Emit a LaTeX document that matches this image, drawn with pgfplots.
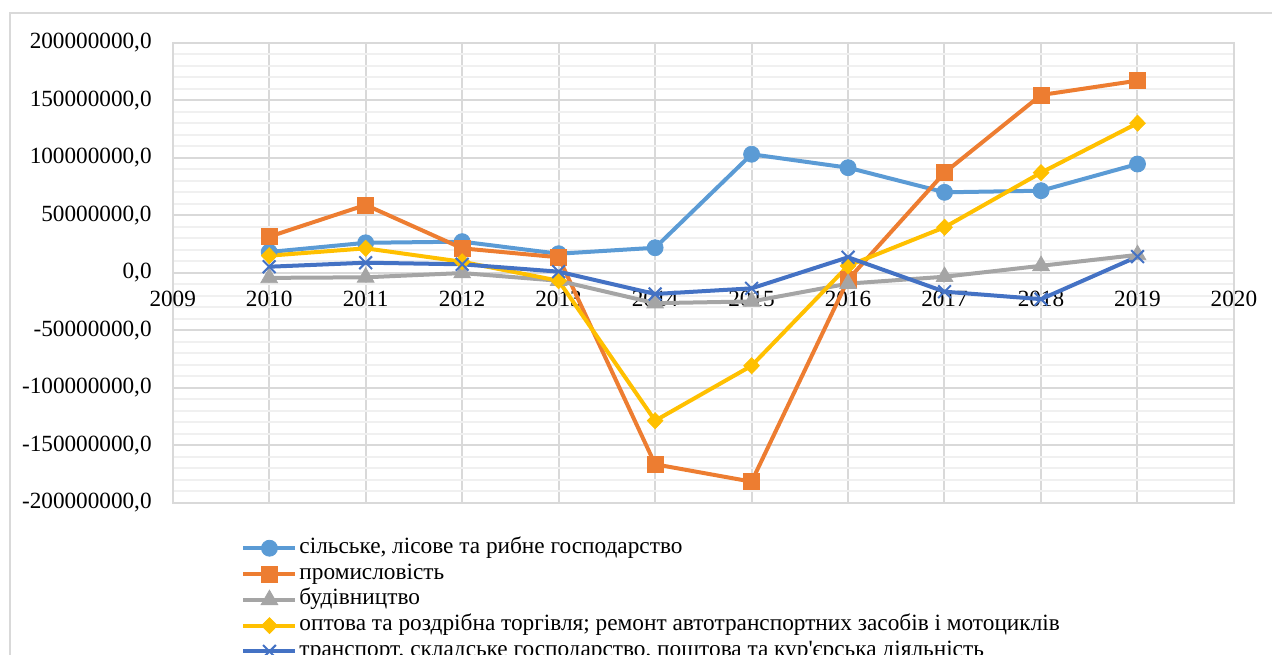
\documentclass[border=0pt]{standalone}
\usepackage{fontspec}
\setmainfont{Liberation Serif}
\usepackage{pgfplots}
\pgfplotsset{compat=1.18}
\definecolor{cA}{HTML}{5B9BD5}
\definecolor{cB}{HTML}{ED7D31}
\definecolor{cC}{HTML}{A5A5A5}
\definecolor{cD}{HTML}{FFC000}
\definecolor{cE}{HTML}{4472C4}
\definecolor{gmaj}{HTML}{D9D9D9}
\definecolor{gmin}{HTML}{F0F0F0}
\begin{document}
\begin{tikzpicture}
\useasboundingbox (0,0) rectangle (636pt,327pt);
\clip (0,0) rectangle (636pt,327pt);
\draw[gmaj, line width=1pt] (5pt,-2pt) -- (5pt,320.25pt) -- (640pt,320.25pt);
\begin{axis}[
  at={(86.35pt,75.65pt)}, anchor=south west,
  scale only axis, width=530.65pt, height=230pt,
  xmin=2009, xmax=2020, ymin=-200, ymax=200,
  xtick={2009,...,2020},
  xticklabels={2009,2010,2011,2012,2013,2014,2015,2016,2017,2018,2019,2020},
  ytick={-200,-150,-100,-50,0,50,100,150,200},
  yticklabels={{-200000000,0},{-150000000,0},{-100000000,0},{-50000000,0},{0,0},{50000000,0},{100000000,0},{150000000,0},{200000000,0}},
  minor y tick num=4,
  major tick length=0pt, minor tick length=0pt,
  grid=both,
  major grid style={gmaj, line width=1pt},
  minor grid style={gmin, line width=1pt},
  axis line style={gmaj, line width=1pt},
  tick label style={font=\fontsize{11.6}{13.9}\selectfont, inner sep=0pt},
  yticklabel style={anchor=east, xshift=-10.35pt},
  xticklabel style={anchor=north, yshift=105.8pt},
  legend style={
    at={(0.0644,-0.07)}, anchor=north west, draw=none, fill=none,
    inner sep=0pt, row sep=0pt,
    font=\fontsize{11.65}{14}\selectfont,
    nodes={inner ysep=0pt, inner xsep=1pt, text height=9pt, text depth=3.9pt},
  },
  legend cell align=left,
  legend image code/.code={\draw[mark repeat=2,mark phase=2,#1] plot coordinates {(0pt,0pt) (13pt,0pt) (26pt,0pt)};},
  every axis plot/.append style={line width=2pt},
  clip=false,
]
% values in millions
\addplot[cA, mark=*, mark size=4pt, mark options={fill=cA, solid, line width=0.4pt}] coordinates {
(2010,18) (2011,26) (2012,27) (2013,16.5) (2014,21.7) (2015,103) (2016,91.3) (2017,69.9) (2018,71.3) (2019,94.5)};
\addlegendentry{сільське, лісове та рибне господарство}
\addplot[cB, mark=square*, mark size=4pt, mark options={fill=cB, solid, line width=0.4pt}] coordinates {
(2010,31.3) (2011,58.9) (2012,21.2) (2013,13.4) (2014,-166.6) (2015,-181.7) (2016,-6) (2017,87) (2018,154.5) (2019,167)};
\addlegendentry{промисловість}
\addplot[cC, mark=triangle*, mark size=4.8pt, mark options={fill=cC, solid, line width=0.4pt}] coordinates {
(2010,-4.5) (2011,-4) (2012,-0.3) (2013,-7) (2014,-26.5) (2015,-25) (2016,-9.5) (2017,-3.5) (2018,6) (2019,15.5)};
\addlegendentry{будівництво}
\addplot[cD, mark=diamond*, mark size=4pt, mark options={fill=cD, solid, line width=0.4pt, xscale=1.3}] coordinates {
(2010,14.8) (2011,21.2) (2012,9.5) (2013,-7) (2014,-128.7) (2015,-80.9) (2016,6) (2017,39.5) (2018,87) (2019,130)};
\addlegendentry{оптова та роздрібна торгівля; ремонт автотранспортних засобів і мотоциклів}
\addplot[cE, mark=x, mark size=4.5pt, mark options={solid, line width=1pt}] coordinates {
(2010,5.2) (2011,8.7) (2012,7.3) (2013,0.9) (2014,-18.5) (2015,-13.6) (2016,13.4) (2017,-16.5) (2018,-23) (2019,14)};
\addlegendentry{транспорт, складське господарство, поштова та кур\textquotesingle єрська діяльність}
\end{axis}
\end{tikzpicture}
\end{document}
